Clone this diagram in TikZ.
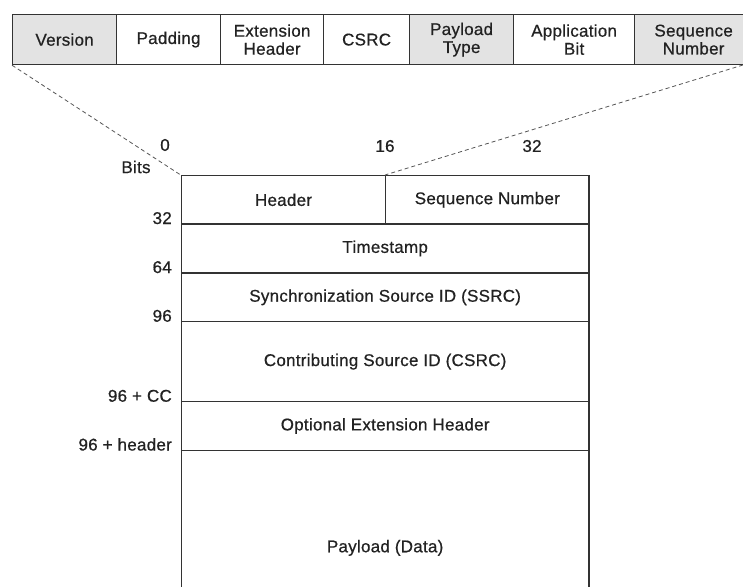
\documentclass[tikz,border=0pt]{standalone}
\usepackage{fontspec}
\setmainfont{Liberation Sans}[LetterSpace=1.5,FakeBold=0.6]
\definecolor{linec}{HTML}{333333}
\definecolor{edgec}{HTML}{5A5A5A}
\definecolor{txt}{HTML}{222222}
\definecolor{cellgray}{HTML}{E3E3E3}
\definecolor{dashc}{HTML}{555555}
\newcommand\myfs{\fontsize{17}{18}\selectfont}
\tikzset{
  cell/.style={draw=linec, line width=1.2pt, rectangle, inner sep=0pt, anchor=north west,
    font=\myfs, text=txt, align=center, minimum height=50pt},
  grayc/.style={fill=cellgray},
  row/.style={draw=linec, line width=1.3pt, rectangle, inner sep=0pt, anchor=north west,
    font=\myfs, text=txt, align=center},
  bitlbl/.style={font=\myfs, text=txt, inner sep=0pt, anchor=base east},
  toplbl/.style={font=\myfs, text=txt, inner sep=0pt, anchor=center},
  guide/.style={draw=dashc, line width=0.8pt, dash pattern=on 4pt off 3pt}
}
\begin{document}
\begin{tikzpicture}[x=1pt,y=-1pt]
\useasboundingbox (0,0) rectangle (743,586);
\clip (0,0) rectangle (743,586);
\fill[white] (0,0) rectangle (743,586);
% top bar
\node[cell,grayc,minimum width=104pt] (ver) at (12,14) {Version};
\node[cell,minimum width=104pt] (pad) at (116,14) {Padding};
\node[cell,minimum width=103pt] (ext) at (220,14) {Extension\\Header};
\node[cell,minimum width=86pt] (csrc) at (323,14) {CSRC};
\node[cell,grayc,minimum width=104pt] (pt) at (409,14) {Payload\\Type};
\node[cell,minimum width=121pt] (app) at (513,14) {Application\\Bit};
\node[cell,grayc,minimum width=118pt,text width=110pt] (seq) at (634,14) {Sequence\\Number};
\coordinate (seqcorner) at (743,65);
% main packet
\node[row,minimum width=204.3pt,minimum height=48.3pt] (hdr) at (180.7,175) {Header};
\node[row,minimum width=203.3pt,minimum height=48.3pt] (sn) at (385,175) {Sequence Number};
\node[row,minimum width=407.6pt,minimum height=49pt] (ts) at (180.7,223.3) {Timestamp};
\node[row,minimum width=407.6pt,minimum height=48.7pt] (ssrc) at (180.7,272.3) {Synchronization Source ID (SSRC)};
\node[row,minimum width=407.6pt,minimum height=80pt] (csrcrow) at (180.7,321) {Contributing Source ID (CSRC)};
\node[row,minimum width=407.6pt,minimum height=48.7pt] (opt) at (180.7,401) {Optional Extension Header};
\node[row,minimum width=407.6pt,minimum height=195pt] (pay) at (180.7,449.7) {Payload (Data)};
% dashed guides
\draw[guide] (ver.south west) -- (hdr.north west);
\draw[guide] (seqcorner) -- (sn.north west);
% bit labels
\node[toplbl] (b0) at (165,145) {0};
\node[toplbl] (b16) at (385,146) {16};
\node[toplbl] (b32) at (532,146) {32};
\node[toplbl] (bits) at (136,167) {Bits};
\node[bitlbl] (l32) at (172,224) {32};
\node[bitlbl] (l64) at (172,273) {64};
\node[bitlbl] (l96) at (172,321.7) {96};
\node[bitlbl] (l96cc) at (172,401.7) {96 + CC};
\node[bitlbl] (l96h) at (172,450.5) {96 + header};
\end{tikzpicture}
\end{document}
